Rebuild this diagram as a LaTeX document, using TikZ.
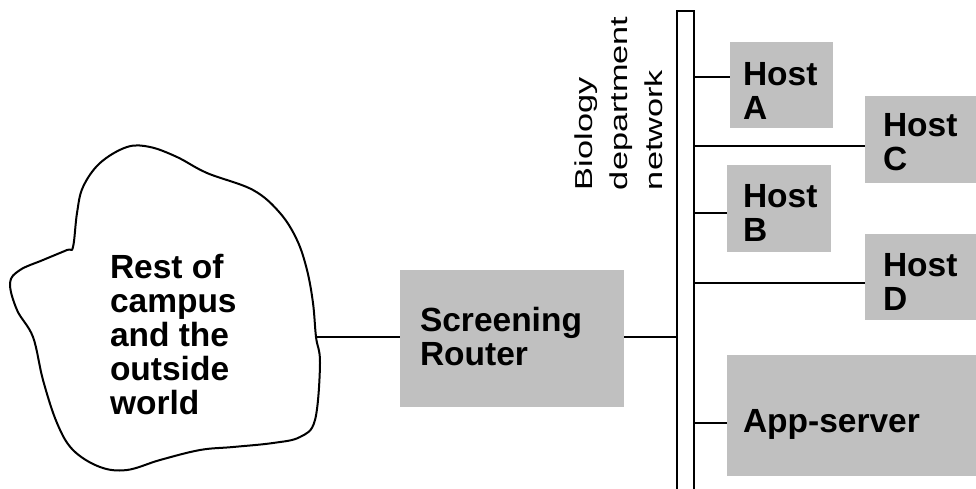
\documentclass[tikz,border=0pt]{standalone}
\usepackage{fontspec}
\setmainfont{Liberation Sans}
\usepackage{graphicx}
\definecolor{boxgray}{RGB}{192,192,192}
\begin{document}
\begin{tikzpicture}[x=1pt,y=-1pt,
  box/.style={fill=boxgray, draw=none, inner sep=0, outer sep=0},
  lbl/.style={inner sep=0, outer sep=0, align=left, font=\fontsize{33.5}{34}\selectfont\bfseries},
  wire/.style={draw=black, line width=2pt},
  net/.style={inner sep=0, outer sep=0, align=left, font=\fontsize{24.5}{35}\selectfont}]
\useasboundingbox (0,0) rectangle (976,488);
% cloud
\draw[line width=2pt, line join=round] plot[smooth cycle, tension=0.6] coordinates {
 (73,247) (77,213) (83,187) (100,163) (127,147) (150,147) (177,157) (207,173)
 (253,190) (280,213) (297,240) (307,270) (313,303) (316,337) (320,363) (315,420)
 (300,437) (273,443) (233,447) (200,450) (160,460) (127,470) (100,467) (73,450)
 (57,423) (43,380) (33,337) (17,310) (10,283) (20,270) (43,260) (67,250)};
\coordinate (cloudR) at (315,337);
\node[lbl, anchor=west] (cloudtxt) at (110,335) {Rest of\\campus\\and the\\outside\\world};
% bus
\node[draw=black, line width=2pt, fill=white, minimum width=17pt, minimum height=500pt, anchor=north west, inner sep=0] (bus) at (676,10) {};
% router
\node[box, minimum width=224pt, minimum height=137pt, anchor=north west] (router) at (400,270) {};
\node[lbl, anchor=west] (routertxt) at (420,337) {Screening\\Router};
% hosts
\node[box, minimum width=103pt, minimum height=86pt, anchor=north west] (hA) at (730,42) {};
\node[lbl, anchor=west] (hAt) at (743,91) {Host\\A};
\node[box, minimum width=112pt, minimum height=87pt, anchor=north west] (hC) at (865,96) {};
\node[lbl, anchor=west] (hCt) at (883,142.5) {Host\\C};
\node[box, minimum width=104pt, minimum height=87pt, anchor=north west] (hB) at (727,165) {};
\node[lbl, anchor=west] (hBt) at (743,212.5) {Host\\B};
\node[box, minimum width=112pt, minimum height=86pt, anchor=north west] (hD) at (865,234) {};
\node[lbl, anchor=west] (hDt) at (883,281.5) {Host\\D};
\node[box, minimum width=250pt, minimum height=121pt, anchor=north west] (app) at (727,355) {};
\node[lbl, anchor=base west] (appt) at (743,432) {App-server};
% network label
\node[net, rotate=90, anchor=north west] (netlbl) at (575,190) {\scalebox{1.4}[1]{Biology}\\\scalebox{1.4}[1]{department}\\\scalebox{1.4}[1]{network}};
% connectors
\draw[wire] (cloudR) -- (router.west |- cloudR);
\draw[wire] (router.east |- cloudR) -- (bus.west |- cloudR);
\draw[wire] (bus.east |- 0,77) -- (hA.west |- 0,77);
\draw[wire] (bus.east |- 0,146) -- (hC.west |- 0,146);
\draw[wire] (bus.east |- 0,213) -- (hB.west |- 0,213);
\draw[wire] (bus.east |- 0,283) -- (hD.west |- 0,283);
\draw[wire] (bus.east |- 0,423) -- (app.west |- 0,423);
\end{tikzpicture}
\end{document}
